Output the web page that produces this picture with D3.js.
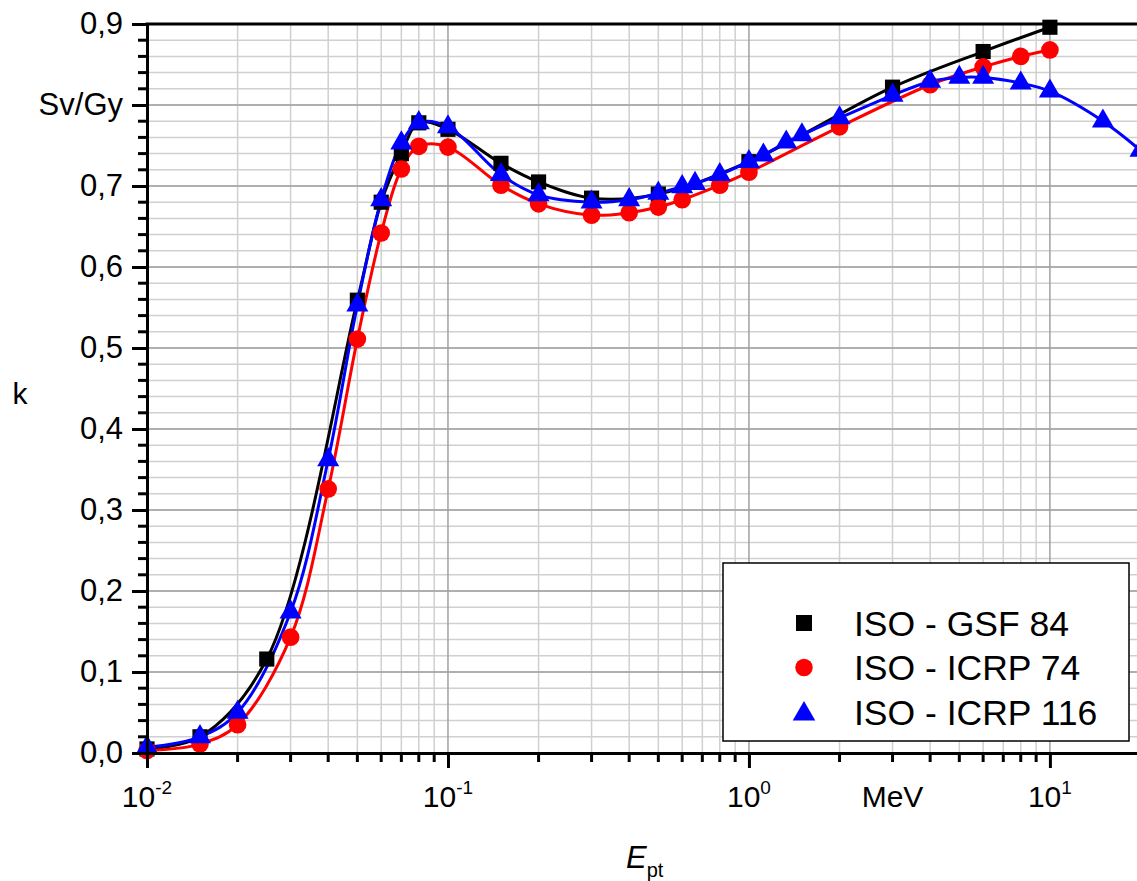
<!DOCTYPE html>
<html>
<head>
<meta charset="utf-8">
<script src="https://cdn.jsdelivr.net/npm/d3@7"></script>
<style>
  body { margin: 0; background: #fff; }
  svg { display: block; font-family: "Liberation Sans", Arial, sans-serif; }
</style>
</head>
<body>
<svg id="chart" width="1137" height="881"></svg>
<script>
// ISO - GSF 84
const gsfE = [0.01, 0.015, 0.025, 0.05, 0.06, 0.07, 0.08, 0.1, 0.15, 0.2, 0.3, 0.5, 1, 3, 6, 10];
const gsfK = [0.005, 0.020, 0.116, 0.559, 0.680, 0.740, 0.778, 0.770, 0.728, 0.705, 0.685, 0.690, 0.730, 0.822, 0.866, 0.896];

// ISO - ICRP 74
const icrp74E = [0.01, 0.015, 0.02, 0.03, 0.04, 0.05, 0.06, 0.07, 0.08, 0.1, 0.15, 0.2, 0.3, 0.4, 0.5, 0.6, 0.8, 1, 2, 4, 6, 8, 10];
const icrp74K = [0.003, 0.011, 0.035, 0.143, 0.326, 0.511, 0.642, 0.721, 0.749, 0.748, 0.701, 0.678, 0.664, 0.667, 0.674, 0.683, 0.701, 0.717, 0.773, 0.825, 0.847, 0.860, 0.868];

// ISO - ICRP 116
const icrp116E = [0.01, 0.015, 0.02, 0.03, 0.04, 0.05, 0.06, 0.07, 0.08, 0.1, 0.15, 0.2, 0.3, 0.4, 0.5, 0.6, 0.662, 0.8, 1, 1.117, 1.33, 1.5, 2, 3, 4, 5, 6, 8, 10, 15, 20];
const icrp116K = [0.007, 0.020, 0.050, 0.174, 0.362, 0.553, 0.683, 0.753, 0.778, 0.773, 0.714, 0.689, 0.680, 0.683, 0.691, 0.699, 0.703, 0.714, 0.730, 0.738, 0.754, 0.763, 0.784, 0.812, 0.829, 0.834, 0.834, 0.827, 0.817, 0.780, 0.744];

const seriesNames = ["ISO - GSF 84", "ISO - ICRP 74", "ISO - ICRP 116"];
const seriesColors = ["#000000", "#ff0000", "#0000ff"];

const yMajor = [0, 0.1, 0.2, 0.3, 0.4, 0.5, 0.6, 0.7, 0.8, 0.9];
const yLabels = ["0,0", "0,1", "0,2", "0,3", "0,4", "0,5", "0,6", "0,7", "Sv/Gy", "0,9"];
const xMajor = [0.01, 0.1, 1, 10];
const xLabelExp = ["-2", "-1", "0", "1"];

const svg = d3.select("#chart");
const margin = {top: 24, right: 0, bottom: 128, left: 147};
const W = +svg.attr("width"), H = +svg.attr("height");
const plotW = W - margin.left - margin.right;
const plotH = H - margin.top - margin.bottom;

const xScale = d3.scaleLog().domain([0.01, 19.47]).range([margin.left, margin.left + plotW]);
const yScale = d3.scaleLinear().domain([0, 0.9]).range([margin.top + plotH, margin.top]);

// minor values: 2..9 in every decade, 0.02 steps on y
let xMinor = [];
[0.01, 0.1, 1, 10].forEach(function(d) {
    for (let i = 2; i <= 9; i++) {
        if (d * i <= 19.47) xMinor.push(d * i);
    }
});
let yMinor = d3.range(0, 46).map(i => +(i * 0.02).toFixed(2)).filter(d => d <= 0.9);

// grid
const grid = svg.append("g");
grid.selectAll(".ygm").data(yMinor).enter().append("line")
    .attr("x1", margin.left).attr("x2", W)
    .attr("y1", d => yScale(d)).attr("y2", d => yScale(d))
    .attr("stroke", "#d0d0d0").attr("stroke-width", 1.5);
grid.selectAll(".xgm").data(xMinor).enter().append("line")
    .attr("x1", d => xScale(d)).attr("x2", d => xScale(d))
    .attr("y1", margin.top).attr("y2", margin.top + plotH)
    .attr("stroke", "#d0d0d0").attr("stroke-width", 1.5);
grid.selectAll(".ygM").data(yMajor).enter().append("line")
    .attr("x1", margin.left).attr("x2", W)
    .attr("y1", d => yScale(d)).attr("y2", d => yScale(d))
    .attr("stroke", "#a0a0a0").attr("stroke-width", 1.5);
grid.selectAll(".xgM").data(xMajor).enter().append("line")
    .attr("x1", d => xScale(d)).attr("x2", d => xScale(d))
    .attr("y1", margin.top).attr("y2", margin.top + plotH)
    .attr("stroke", "#a0a0a0").attr("stroke-width", 1.5);

// clip for curves
svg.append("clipPath").attr("id", "clip").append("rect")
    .attr("x", margin.left).attr("y", 0).attr("width", plotW).attr("height", margin.top + plotH);

const allSeries = [
    gsfE.map((e, i) => [e, gsfK[i]]),
    icrp74E.map((e, i) => [e, icrp74K[i]]),
    icrp116E.map((e, i) => [e, icrp116K[i]])
];

const line = d3.line()
    .x(d => xScale(d[0]))
    .y(d => yScale(d[1]))
    .curve(d3.curveCatmullRom.alpha(0.5));

const curves = svg.append("g").attr("clip-path", "url(#clip)");
allSeries.forEach(function(s, i) {
    curves.append("path")
        .attr("d", line(s))
        .attr("fill", "none")
        .attr("stroke", seriesColors[i])
        .attr("stroke-width", 3);
});

const symbols = [d3.symbol().type(d3.symbolSquare).size(230),
                 d3.symbol().type(d3.symbolCircle).size(245),
                 d3.symbol().type(d3.symbolTriangle).size(210)];

allSeries.forEach(function(s, i) {
    svg.append("g").selectAll("path").data(s).enter().append("path")
        .attr("d", symbols[i])
        .attr("transform", d => "translate(" + xScale(d[0]) + "," + yScale(d[1]) + ")")
        .attr("fill", seriesColors[i]);
});

// y axis
const yAxisG = svg.append("g").attr("transform", "translate(" + margin.left + ",0)");
yAxisG.call(d3.axisLeft(yScale).tickValues(yMajor).tickSize(15).tickSizeOuter(0)
        .tickFormat((d, i) => yLabels[i]))
    .call(g => g.select(".domain").attr("stroke-width", 3))
    .call(g => g.selectAll(".tick line").attr("stroke-width", 3))
    .call(g => g.selectAll(".tick text").attr("font-size", 31).attr("x", -24).attr("fill", "#000")
        .attr("font-family", "Liberation Sans, Arial, sans-serif"));
yAxisG.selectAll(".yminor").data(yMinor.filter(d => yMajor.indexOf(d) < 0)).enter().append("line")
    .attr("x1", -9).attr("x2", 0)
    .attr("y1", d => yScale(d)).attr("y2", d => yScale(d))
    .attr("stroke", "#000").attr("stroke-width", 3);

// top border
svg.append("line")
    .attr("x1", margin.left - 1.5).attr("x2", W)
    .attr("y1", margin.top).attr("y2", margin.top)
    .attr("stroke", "#000").attr("stroke-width", 3);

// x axis
const xAxisG = svg.append("g").attr("transform", "translate(0," + (margin.top + plotH) + ")");
xAxisG.call(d3.axisBottom(xScale).tickValues(xMajor).tickSize(15).tickSizeOuter(0).tickFormat(""))
    .call(g => g.select(".domain").attr("stroke-width", 3))
    .call(g => g.selectAll(".tick line").attr("stroke-width", 3));
xAxisG.selectAll(".xminor").data(xMinor).enter().append("line")
    .attr("x1", d => xScale(d)).attr("x2", d => xScale(d))
    .attr("y1", 0).attr("y2", 9)
    .attr("stroke", "#000").attr("stroke-width", 3);

xMajor.forEach(function(d, i) {
    const t = xAxisG.append("text")
        .attr("x", xScale(d)).attr("y", 54)
        .attr("text-anchor", "middle")
        .attr("font-size", 30).attr("fill", "#000");
    t.append("tspan").text("10");
    t.append("tspan").attr("font-size", 19).attr("dy", -13).text(xLabelExp[i]);
});
xAxisG.append("text")
    .attr("x", xScale(3)).attr("y", 54)
    .attr("text-anchor", "middle")
    .attr("font-size", 30).attr("fill", "#000")
    .text("MeV");

// axis titles
svg.append("text")
    .attr("x", 20).attr("y", 404)
    .attr("text-anchor", "middle")
    .attr("font-size", 30).attr("fill", "#000")
    .text("k");

const et = svg.append("text")
    .attr("x", 626).attr("y", 868)
    .attr("font-size", 31).attr("fill", "#000");
et.append("tspan").attr("font-style", "italic").text("E");
et.append("tspan").attr("font-size", 20).attr("dy", 9).text("pt");

// legend
const legend = svg.append("g");
legend.append("rect")
    .attr("x", 723).attr("y", 563).attr("width", 406).attr("height", 178)
    .attr("fill", "#fff").attr("stroke", "#000").attr("stroke-width", 1.5);
const legendSymbols = [d3.symbol().type(d3.symbolSquare).size(256),
                       d3.symbol().type(d3.symbolCircle).size(240),
                       d3.symbol().type(d3.symbolTriangle).size(220)];
seriesNames.forEach(function(name, i) {
    const cy = 623 + i * 44.5;
    legend.append("path")
        .attr("d", legendSymbols[i])
        .attr("transform", "translate(804," + (cy + (i === 2 ? 2 : 0)) + ")")
        .attr("fill", seriesColors[i]);
    legend.append("text")
        .attr("x", 854).attr("y", cy + 12.5)
        .attr("font-size", 35.5).attr("fill", "#000")
        .text(name);
});
</script>
</body>
</html>
